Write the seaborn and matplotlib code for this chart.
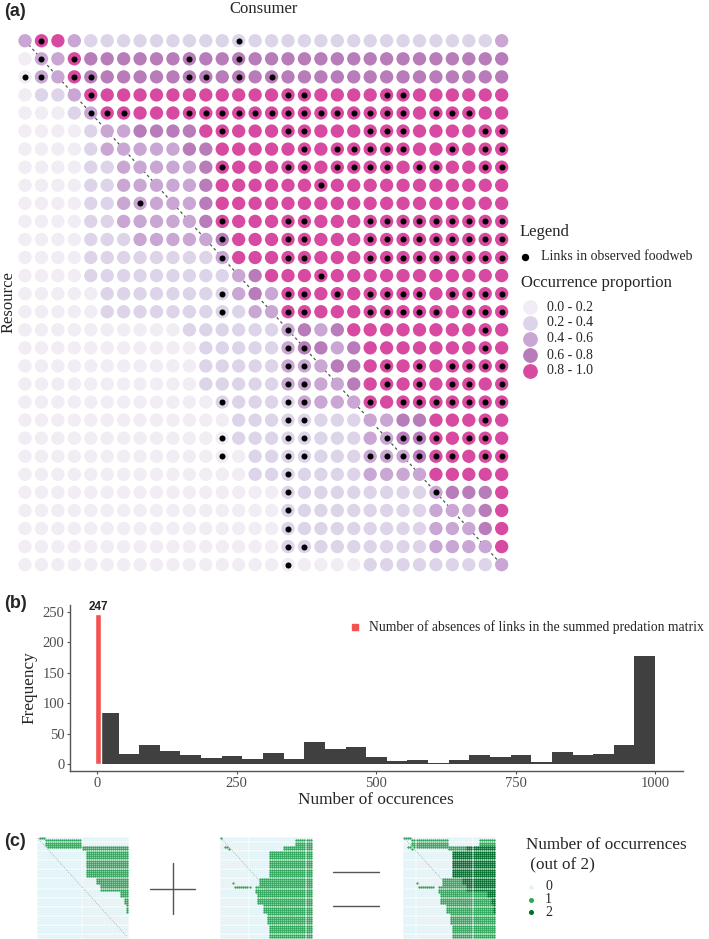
import numpy as np
import pandas as pd
import matplotlib
matplotlib.use("Agg")
import matplotlib.pyplot as plt
import seaborn as sns
from matplotlib.lines import Line2D

sns.set_theme(style="white")
plt.rcParams['font.family'] = ['Liberation Serif', 'DejaVu Serif']

# ---------------- Panel (a) data ----------------
level_rows = [
    "244211111111111111111111111112",
    "022433333333333333333333333333",
    "022433333333333333333333333333",
    "011244444444444444444444444444",
    "000124444444444444444444444444",
    "000012233334444444444444444444",
    "000012222233444444444444444444",
    "000011222223444444444444444444",
    "000011222223444444444444444444",
    "000011222223444444444444444444",
    "000011222223444444444444444444",
    "000011122222344444444444444444",
    "000011111111244444444444444444",
    "000011111111123444444444444444",
    "000001111111123244444444444444",
    "000001111111112244444444444444",
    "000000000011111123234444444444",
    "000000000001111123323444444444",
    "000000000001111122233444444444",
    "000000000001111122223444444444",
    "000000000000111112222444444444",
    "000000000000011111111223344444",
    "000000000000011111111223344444",
    "000000000000001111111222344444",
    "000000000000001111111222244444",
    "000000000000000011111111123334",
    "000000000000000011111111122234",
    "000000000000000011111111122234",
    "000000000000000011111111122224",
    "000000000000000000000111111112",
]
link_cols = [
    [1, 13],
    [1, 3, 10, 13],
    [0, 1, 3, 4, 10, 11, 13, 15],
    [4, 16, 17, 22, 23],
    [4, 5, 6, 10, 11, 12, 13, 14, 15, 16, 17, 18, 19, 20, 21, 22, 23, 25, 26, 27],
    [12, 16, 17, 21, 22, 23, 28, 29],
    [17, 19, 20, 21, 22, 23, 26, 28, 29],
    [12, 16, 17, 19, 20, 21, 22, 24, 25, 28, 29],
    [18],
    [7],
    [12, 16, 17, 21, 22, 23, 24, 25, 26, 27, 28, 29],
    [12, 16, 17, 21, 22, 23, 24, 25, 26, 27, 28, 29],
    [12, 16, 17, 21, 22, 23, 24, 25, 26, 27, 28, 29],
    [18],
    [12, 16, 17, 19, 21, 22, 23, 24, 26, 27, 28, 29],
    [12, 16, 17, 21, 22, 23, 24, 25, 27, 28, 29],
    [16, 28],
    [16, 17, 28],
    [16, 17, 22, 24, 26, 27, 28, 29],
    [16, 17, 22, 24, 26, 27, 29],
    [12, 16, 17, 21, 23, 24, 25, 26, 27, 28, 29],
    [16, 17, 28],
    [12, 16, 17, 22, 23, 24, 25, 27, 28],
    [12, 16, 17, 21, 22, 23, 24, 25, 26, 28, 29],
    [16],
    [16, 25],
    [16],
    [16],
    [16, 17],
    [16],
]
level_labels = ["0.0 - 0.2", "0.2 - 0.4", "0.4 - 0.6", "0.6 - 0.8", "0.8 - 1.0"]
level_colors = ["#f2ecf5", "#ddd4ea", "#c9a6d3", "#b97cba", "#d84aa1"]

# ---------------- Panel (b) data ----------------
bin_start, bin_stop, n_bins = 1, 1000, 27
bin_counts = [84, 17, 31, 21, 15, 10, 13, 8, 18, 9, 36, 25, 28, 11, 5, 7, 2,
              7, 15, 11, 14, 4, 20, 15, 17, 32, 177]
absence_x = 1
absence_count = 247
absence_label = "Number of absences of links in the summed predation matrix"

# ---------------- Panel (c) data ----------------
N_c = 45
m1_blocks = [(0, 0, 1, 3), (1, 3, 4, 21), (4, 4, 5, 44), (5, 5, 22, 44),
             (6, 17, 24, 44), (18, 20, 29, 44), (21, 23, 31, 44),
             (24, 26, 41, 44), (27, 29, 43, 44), (30, 33, 44, 44)]
m2_blocks = [(0, 0, 0, 0), (4, 4, 2, 3), (5, 5, 4, 4), (20, 20, 6, 6),
             (22, 22, 7, 14), (1, 3, 37, 44), (4, 5, 31, 44), (6, 17, 24, 44),
             (18, 21, 19, 44), (22, 24, 17, 44), (25, 29, 18, 44),
             (30, 33, 21, 44), (34, 38, 23, 44), (39, 44, 24, 44)]
occ_labels = ["0", "1", "2"]
occ_colors = ["#e2f3f7", "#2ea55a", "#006d2c"]

# ---------------- Figure ----------------
W, H = 709, 939
fig = plt.figure(figsize=(W / 100, H / 100), dpi=100)


def fx(x):
    return x / W


def fy(y):
    return 1 - y / H


def rect(l, t, w, h):
    return [l / W, 1 - (t + h) / H, w / W, h / H]


# ---- Panel (a)
axa = fig.add_axes(rect(16.8, 31.7, 493.1, 542.0))
rows, cols, levs = [], [], []
for r, s in enumerate(level_rows):
    for c, ch in enumerate(s):
        rows.append(r); cols.append(c); levs.append(int(ch))
dfa = pd.DataFrame({"row": rows, "col": cols, "level": levs})
axa.plot([0, len(level_rows) - 1], [0, len(level_rows) - 1], ls=(0, (2.2, 2.2)),
         color="#555555", lw=0.9, zorder=1)
sns.scatterplot(data=dfa, x="col", y="row", hue="level",
                palette=dict(enumerate(level_colors)), s=92, linewidth=0,
                legend=False, ax=axa, zorder=2)
lr, lc = [], []
for r, cs in enumerate(link_cols):
    for c in cs:
        lr.append(r); lc.append(c)
dfl = pd.DataFrame({"row": lr, "col": lc})
sns.scatterplot(data=dfl, x="col", y="row", color="black", s=19, linewidth=0,
                legend=False, ax=axa, zorder=3)
axa.set_xlim(-0.5, 29.5)
axa.set_ylim(29.5, -0.5)
axa.axis("off")

fig.text(fx(4), fy(11), "(a)", fontsize=13, fontweight="bold",
         family=["Liberation Sans"], va="center", ha="left")
fig.text(fx(264), fy(9), "Consumer", fontsize=12, va="center", ha="center")
fig.text(fx(9), fy(302), "Resource", fontsize=12, va="center", ha="center",
         rotation=90)

# legend (a)
fig.text(fx(520), fy(232), "Legend", fontsize=12, va="center", ha="left")
fig.add_artist(Line2D([fx(525)], [fy(257)], marker="o", color="black",
                      markersize=4.3, linestyle="none"))
fig.text(fx(541), fy(257), "Links in observed foodweb", fontsize=10,
         va="center", ha="left")
fig.text(fx(521), fy(283), "Occurrence proportion", fontsize=12,
         va="center", ha="left")
for i, (lab, colr) in enumerate(zip(level_labels, level_colors)):
    yy = 307 + i * 16
    fig.add_artist(Line2D([fx(530)], [fy(yy)], marker="o", color=colr,
                          markersize=9.6, linestyle="none"))
    fig.text(fx(547), fy(yy), lab, fontsize=10, va="center", ha="left")

# ---- Panel (b)
axb = fig.add_axes(rect(70, 605, 613, 166))
bin_edges = np.linspace(bin_start, bin_stop, n_bins + 1)
centers = (bin_edges[:-1] + bin_edges[1:]) / 2
dfb = pd.DataFrame({"occ": centers, "count": np.asarray(bin_counts, float)})
sns.histplot(data=dfb, x="occ", weights="count",
             binwidth=float(bin_edges[1] - bin_edges[0]),
             binrange=(float(bin_start), float(bin_stop)), ax=axb,
             color="#404040", alpha=1, edgecolor="none", linewidth=0)
axb.bar([absence_x], [absence_count], width=12, color="#f25350", zorder=3)
axb.text(absence_x, absence_count + 1, str(absence_count), ha="center",
         va="bottom", fontsize=8.5, fontweight="bold",
         family=["Liberation Sans"], color="#222222", clip_on=False)
axb.set_xlim(-49, 1050)
axb.set_ylim(-11.5, 261)
axb.set_xticks([0, 250, 500, 750, 1000])
axb.set_yticks([0, 50, 100, 150, 200, 250])
axb.set_xlabel("")
axb.set_ylabel("")
for side in ["top", "right"]:
    axb.spines[side].set_visible(False)
for side in ["left", "bottom"]:
    axb.spines[side].set_color("#555555")
    axb.spines[side].set_linewidth(1.0)
axb.tick_params(axis="both", which="major", length=2.5, width=0.8,
                color="#555555", labelcolor="#4d4d4d", labelsize=10.5, pad=1.5,
                left=True, bottom=True)
fig.text(fx(376), fy(800), "Number of occurences", fontsize=12.4,
         va="center", ha="center")
fig.text(fx(29), fy(688), "Frequency", fontsize=12.4, va="center",
         ha="center", rotation=90)
fig.text(fx(4), fy(603), "(b)", fontsize=13, fontweight="bold",
         family=["Liberation Sans"], va="center", ha="left")
fig.add_artist(Line2D([fx(355)], [fy(626.7)], marker="s", color="#f25350",
                      markersize=5, linestyle="none"))
fig.text(fx(369), fy(626.7), absence_label, fontsize=9.8, va="center",
         ha="left")

# ---- Panel (c)


def block_matrix(blocks):
    m = np.zeros((N_c, N_c), int)
    for r0, r1, c0, c1 in blocks:
        m[r0:r1 + 1, c0:c1 + 1] = 1
    return m


m1 = block_matrix(m1_blocks)
m2 = block_matrix(m2_blocks)
m3 = m1 + m2
for left, mat in zip([36.7, 220.0, 403.3], [m1, m2, m3]):
    ax = fig.add_axes(rect(left, 837, 91.6, 101))
    rr, cc = np.indices(mat.shape)
    dfc = pd.DataFrame({"row": rr.ravel(), "col": cc.ravel(),
                        "val": mat.ravel()})
    for v in (0, 1, 2):
        sub = dfc[dfc.val == v]
        if len(sub) == 0:
            continue
        sns.scatterplot(data=sub, x="col", y="row", color=occ_colors[v],
                        s=2.8, linewidth=0, legend=False, ax=ax, snap=False)
    ax.plot([0, N_c - 1], [0, N_c - 1], ls=(0, (1, 2)), color="#888888",
            lw=0.5, zorder=4)
    ax.set_xlim(-0.5, N_c - 0.5)
    ax.set_ylim(N_c - 0.5, -0.5)
    ax.axis("off")

fig.text(fx(4), fy(842), "(c)", fontsize=13, fontweight="bold",
         family=["Liberation Sans"], va="center", ha="left")
# plus and equals signs
fig.add_artist(Line2D([fx(150), fx(195)], [fy(889), fy(889)], color="#555555", lw=1))
fig.add_artist(Line2D([fx(172.5), fx(172.5)], [fy(863), fy(914)], color="#555555", lw=1))
fig.add_artist(Line2D([fx(333), fx(379)], [fy(872), fy(872)], color="#555555", lw=1))
fig.add_artist(Line2D([fx(333), fx(379)], [fy(906), fy(906)], color="#555555", lw=1))

fig.text(fx(526), fy(845), "Number of occurrences", fontsize=12.3,
         va="center", ha="left")
fig.text(fx(526), fy(865), " (out of 2)", fontsize=12.3, va="center", ha="left")
for i, (lab, colr) in enumerate(zip(occ_labels, occ_colors)):
    yy = 887 + i * 12.5
    fig.add_artist(Line2D([fx(531)], [fy(yy)], marker="o", color=colr,
                          markersize=2.2 if i == 0 else 2.6, linestyle="none"))
    fig.text(fx(545), fy(yy), lab, fontsize=10, va="center", ha="left")

fig.savefig("out.png", dpi=100)
